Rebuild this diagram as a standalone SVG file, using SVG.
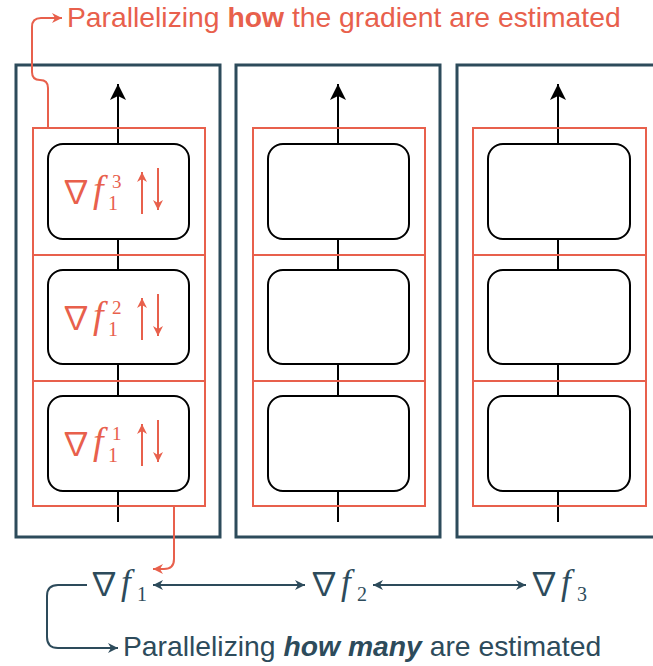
<svg xmlns="http://www.w3.org/2000/svg" width="653" height="666" viewBox="0 0 653 666">
<style>
.outer{fill:#fff;stroke:#2d4b5b;stroke-width:3}
.stage{fill:none;stroke:#e8604c;stroke-width:2}
.inner{fill:#fff;stroke:#000;stroke-width:2}
.spine{stroke:#000;stroke-width:2;fill:none}
.or{stroke:#e8604c;stroke-width:2;fill:none}
.dk{stroke:#2d4b5b;stroke-width:2;fill:none}
.nab{font-family:"Noto Sans CJK JP","DejaVu Serif",serif;font-style:normal}
.fi{font-family:"Liberation Serif",serif;font-style:italic}
.num{font-family:"Liberation Serif",serif;font-style:normal}
.ot{fill:#e8604c}
.dt{fill:#2d4b5b}
.lbl{font-family:"Liberation Sans",Arial,sans-serif;font-size:28.3px}
</style>
<defs>
<marker id="stealth" viewBox="0 0 16 16" refX="16" refY="8" markerWidth="16" markerHeight="16" markerUnits="userSpaceOnUse" orient="auto-start-reverse"><path d="M0,0 L16,8 L0,16 L4,8 Z" fill="#000"/></marker>
<marker id="ah-o" viewBox="0 0 10 10" refX="10" refY="5" markerWidth="10" markerHeight="10" markerUnits="userSpaceOnUse" orient="auto-start-reverse"><path d="M0,0 L10,5 L0,10 L3,5 Z" fill="#e8604c"/></marker>
<marker id="ah-d" viewBox="0 0 10 10" refX="10" refY="5" markerWidth="10" markerHeight="10" markerUnits="userSpaceOnUse" orient="auto-start-reverse"><path d="M0,0 L10,5 L0,10 L3,5 Z" fill="#2d4b5b"/></marker>
</defs>

<g id="col1">
<rect class="outer" x="16" y="65" width="204" height="472"/>
<path class="spine" d="M118,522 V84" marker-end="url(#stealth)"/>
<rect class="stage" x="33" y="128" width="172" height="127"/>
<rect class="stage" x="33" y="255" width="172" height="126"/>
<rect class="stage" x="33" y="381" width="172" height="125"/>
<rect class="inner" x="48" y="144" width="141" height="95" rx="15"/>
<rect class="inner" x="48" y="270" width="141" height="94" rx="15"/>
<rect class="inner" x="48" y="396" width="141" height="95" rx="15"/>
<g id="g13">
<text class="ot"><tspan class="nab" x="60" y="203" font-size="32">∇</tspan><tspan class="fi" x="93" y="202" font-size="38">f</tspan><tspan class="num" x="108" y="210" font-size="20">1</tspan><tspan class="num" x="112" y="188" font-size="19">3</tspan></text>
<path class="or" d="M142,214 V172" marker-end="url(#ah-o)"/>
<path class="or" d="M158,168 V210" marker-end="url(#ah-o)"/>
</g>
<g id="g12">
<text class="ot"><tspan class="nab" x="60" y="329" font-size="32">∇</tspan><tspan class="fi" x="93" y="328" font-size="38">f</tspan><tspan class="num" x="108" y="336" font-size="20">1</tspan><tspan class="num" x="112" y="314" font-size="19">2</tspan></text>
<path class="or" d="M142,340 V298" marker-end="url(#ah-o)"/>
<path class="or" d="M158,294 V336" marker-end="url(#ah-o)"/>
</g>
<g id="g11">
<text class="ot"><tspan class="nab" x="60" y="455" font-size="32">∇</tspan><tspan class="fi" x="93" y="454" font-size="38">f</tspan><tspan class="num" x="108" y="462" font-size="20">1</tspan><tspan class="num" x="112" y="440" font-size="19">1</tspan></text>
<path class="or" d="M142,466 V424" marker-end="url(#ah-o)"/>
<path class="or" d="M158,420 V462" marker-end="url(#ah-o)"/>
</g>
</g>

<g id="col2">
<rect class="outer" x="236" y="65" width="204" height="472"/>
<path class="spine" d="M338,522 V84" marker-end="url(#stealth)"/>
<rect class="stage" x="253" y="128" width="172" height="127"/>
<rect class="stage" x="253" y="255" width="172" height="126"/>
<rect class="stage" x="253" y="381" width="172" height="125"/>
<rect class="inner" x="268" y="144" width="141" height="95" rx="15"/>
<rect class="inner" x="268" y="270" width="141" height="94" rx="15"/>
<rect class="inner" x="268" y="396" width="141" height="95" rx="15"/>
</g>

<g id="col3">
<rect class="outer" x="457" y="65" width="204" height="472"/>
<path class="spine" d="M558,522 V84" marker-end="url(#stealth)"/>
<rect class="stage" x="473" y="128" width="173" height="127"/>
<rect class="stage" x="473" y="255" width="173" height="126"/>
<rect class="stage" x="473" y="381" width="173" height="125"/>
<rect class="inner" x="488" y="144" width="142" height="95" rx="15"/>
<rect class="inner" x="488" y="270" width="142" height="94" rx="15"/>
<rect class="inner" x="488" y="396" width="142" height="95" rx="15"/>
</g>

<g id="grad1">
<text class="dt"><tspan class="nab" x="88" y="595" font-size="32">∇</tspan><tspan class="fi" x="121" y="594" font-size="35">f</tspan><tspan class="num" x="137" y="601" font-size="20">1</tspan></text>
</g>
<g id="grad2">
<text class="dt"><tspan class="nab" x="308" y="595" font-size="32">∇</tspan><tspan class="fi" x="341" y="594" font-size="35">f</tspan><tspan class="num" x="357" y="601" font-size="20">2</tspan></text>
</g>
<g id="grad3">
<text class="dt"><tspan class="nab" x="528" y="595" font-size="32">∇</tspan><tspan class="fi" x="561" y="594" font-size="35">f</tspan><tspan class="num" x="577" y="601" font-size="20">3</tspan></text>
</g>

<g id="label-top">
<text class="lbl ot" x="67" y="27">Parallelizing <tspan font-weight="bold">how</tspan> the gradient are estimated</text>
</g>
<g id="label-bottom">
<text class="lbl dt" x="123" y="656" font-size="28">Parallelizing <tspan font-weight="bold" font-style="italic">how many</tspan> are estimated</text>
</g>

<g id="connectors">
<path class="dk" d="M153,585 H305" marker-start="url(#ah-d)" marker-end="url(#ah-d)"/>
<path class="dk" d="M373,585 H526" marker-start="url(#ah-d)" marker-end="url(#ah-d)"/>
<path class="or" d="M48,128 V88 Q48,80 40,80 Q32,80 32,72 V27 Q32,18 41,18 H62" marker-end="url(#ah-o)"/>
<path class="or" d="M174,506 V559 Q174,569 164,569 H153" marker-end="url(#ah-o)"/>
<path class="dk" d="M87,585 H58 Q47,585 47,596 V637 Q47,648 58,648 H118" marker-end="url(#ah-d)"/>
</g>
</svg>
